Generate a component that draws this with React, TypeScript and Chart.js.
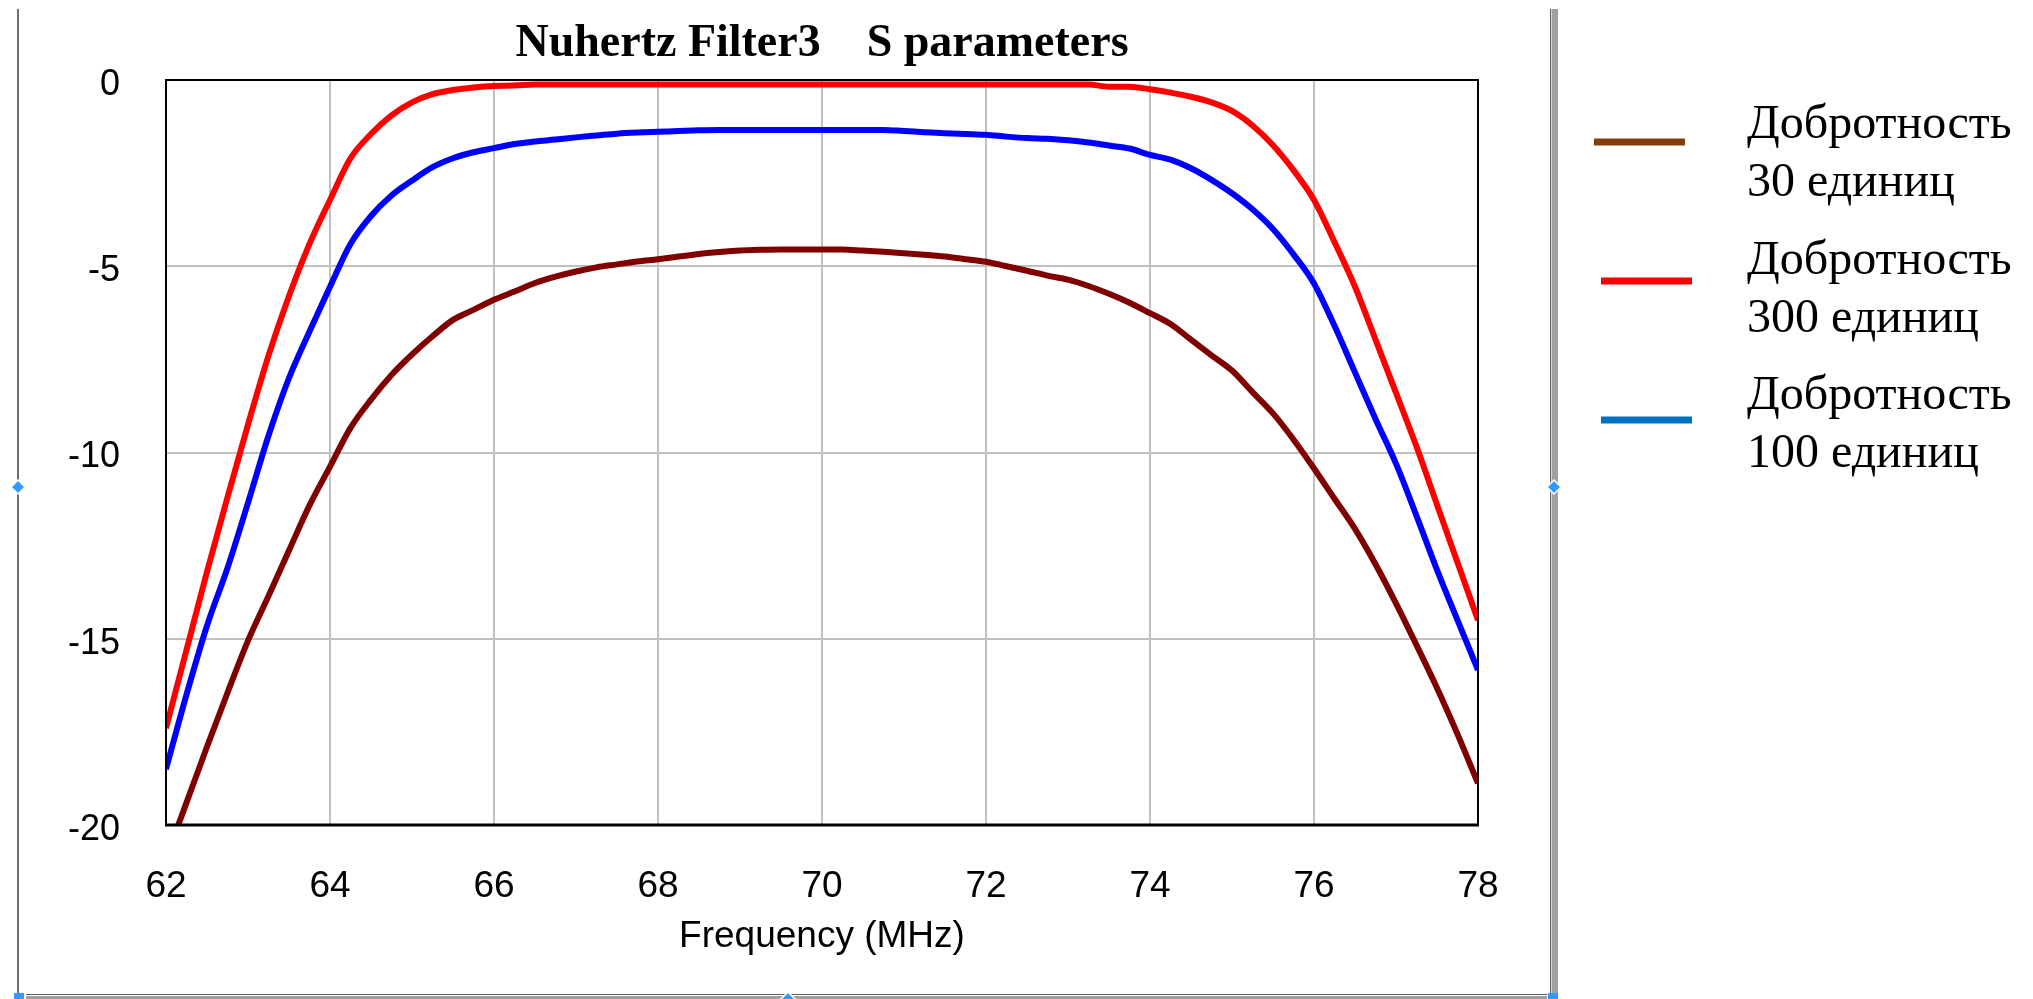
import React, { useEffect, useRef } from "react";
import { Chart, registerables } from "chart.js";

Chart.register(...registerables);

// ---------- data ----------
const frequencies = [
  62, 62.25, 62.5, 62.75, 63, 63.25, 63.5, 63.75, 64, 64.25, 64.5, 64.75,
  65, 65.25, 65.5, 65.75, 66, 66.25, 66.5, 66.75, 67, 67.25, 67.5, 67.75,
  68, 68.25, 68.5, 68.75, 69, 69.25, 69.5, 69.75, 70, 70.25, 70.5, 70.75,
  71, 71.25, 71.5, 71.75, 72, 72.25, 72.5, 72.75, 73, 73.25, 73.5, 73.75,
  74, 74.25, 74.5, 74.75, 75, 75.25, 75.5, 75.75, 76, 76.25, 76.5, 76.75,
  77, 77.25, 77.5, 77.75, 78,
];

const q30 = [
  -20.9, -19.4, -17.9, -16.45, -15.05, -13.85, -12.63, -11.42, -10.38, -9.34, -8.58, -7.92,
  -7.37, -6.88, -6.44, -6.17, -5.9, -5.68, -5.45, -5.28, -5.14, -5.03, -4.95, -4.87,
  -4.81, -4.74, -4.67, -4.62, -4.58, -4.56, -4.55, -4.55, -4.55, -4.55, -4.58, -4.61,
  -4.65, -4.69, -4.74, -4.81, -4.88, -5.0, -5.12, -5.25, -5.36, -5.53, -5.74, -5.98,
  -6.26, -6.55, -6.97, -7.39, -7.8, -8.38, -8.95, -9.65, -10.43, -11.24, -12.05, -13.0,
  -14.05, -15.17, -16.32, -17.56, -18.88,
];

const q300 = [
  -17.4, -15.3, -13.2, -11.2, -9.25, -7.4, -5.8, -4.4, -3.22, -2.1, -1.45, -0.95,
  -0.6, -0.38, -0.27, -0.2, -0.16, -0.15, -0.12, -0.12, -0.12, -0.12, -0.12, -0.12,
  -0.12, -0.12, -0.12, -0.12, -0.12, -0.12, -0.12, -0.12, -0.12, -0.12, -0.12, -0.12,
  -0.12, -0.12, -0.12, -0.12, -0.12, -0.12, -0.12, -0.12, -0.12, -0.12, -0.18, -0.18,
  -0.25, -0.34, -0.45, -0.6, -0.83, -1.22, -1.75, -2.42, -3.22, -4.35, -5.55, -6.97,
  -8.4, -9.84, -11.4, -12.95, -14.5,
];

const q100 = [
  -18.5, -16.5, -14.65, -13.1, -11.35, -9.55, -8.0, -6.75, -5.55, -4.4, -3.65, -3.1,
  -2.7, -2.34, -2.1, -1.94, -1.83, -1.72, -1.65, -1.6, -1.54, -1.49, -1.44, -1.41,
  -1.39, -1.37, -1.35, -1.34, -1.34, -1.34, -1.34, -1.34, -1.34, -1.34, -1.34, -1.34,
  -1.37, -1.4, -1.43, -1.45, -1.47, -1.52, -1.56, -1.58, -1.62, -1.68, -1.76, -1.84,
  -2.01, -2.14, -2.37, -2.68, -3.04, -3.47, -4.0, -4.68, -5.46, -6.6, -7.85, -9.1,
  -10.3, -11.7, -13.15, -14.5, -15.84,
];

const seriesValues = [q30, q300, q100];
const seriesLabels = [
  ["Добротность", "30 единиц"],
  ["Добротность", "300 единиц"],
  ["Добротность", "100 единиц"],
];
const lineColors = ["#800000", "#FF0000", "#0000FF"];
const legendColors = ["#843C0C", "#FF0000", "#0070C0"];

const xTicks = [62, 64, 66, 68, 70, 72, 74, 76, 78];
const yTicks = [0, -5, -10, -15, -20];
const chartTitle = "Nuhertz Filter3    S parameters";
const xAxisTitle = "Frequency (MHz)";

// ---------- styling ----------
const SANS = "'Liberation Sans', Arial, sans-serif";
const SERIF = "'Liberation Serif', 'Times New Roman', serif";

function diamond(ctx: CanvasRenderingContext2D, cx: number, cy: number, r: number) {
  ctx.beginPath();
  ctx.moveTo(cx, cy - r);
  ctx.lineTo(cx + r, cy);
  ctx.lineTo(cx, cy + r);
  ctx.lineTo(cx - r, cy);
  ctx.closePath();
  ctx.fillStyle = "#3399FF";
  ctx.fill();
  ctx.strokeStyle = "#FFFFFF";
  ctx.lineWidth = 1.5;
  ctx.stroke();
}

const decorPlugin = {
  id: "decor",
  beforeDraw(chart: any) {
    const ctx = chart.ctx as CanvasRenderingContext2D;
    ctx.save();
    ctx.fillStyle = "#FFFFFF";
    ctx.fillRect(0, 0, chart.width, chart.height);
    ctx.restore();
  },
  afterDatasetsDraw(chart: any) {
    const { ctx, chartArea } = chart;
    const { left, top, right, bottom } = chartArea;
    ctx.save();
    ctx.strokeStyle = "#000000";
    ctx.lineWidth = 2;
    ctx.beginPath();
    ctx.moveTo(left, bottom);
    ctx.lineTo(left, top);
    ctx.lineTo(right, top);
    ctx.lineTo(right, bottom);
    ctx.stroke();
    ctx.lineWidth = 3;
    ctx.beginPath();
    ctx.moveTo(left - 1, bottom);
    ctx.lineTo(right + 1, bottom);
    ctx.stroke();
    ctx.restore();
  },
  afterDraw(chart: any) {
    const ctx = chart.ctx as CanvasRenderingContext2D;
    ctx.save();
    // frame of the embedded object
    ctx.fillStyle = "#707070";
    ctx.fillRect(17, 9, 2, 984);
    ctx.fillStyle = "#606060";
    ctx.fillRect(1550, 9, 1, 984);
    ctx.fillStyle = "#D8D8D8";
    ctx.fillRect(1551, 9, 1, 984);
    ctx.fillStyle = "#A0A0A0";
    ctx.fillRect(1552, 9, 6, 984);
    ctx.fillStyle = "#606060";
    ctx.fillRect(26, 994, 1521, 1);
    ctx.fillStyle = "#A0A0A0";
    ctx.fillRect(26, 996, 1521, 3);
    // handles
    diamond(ctx, 18, 487, 7);
    diamond(ctx, 1554, 487, 7);
    diamond(ctx, 788, 999, 7);
    ctx.fillStyle = "#3399FF";
    ctx.fillRect(14, 993, 10, 6);
    ctx.fillRect(1548, 993, 10, 6);

    // legend
    ctx.font = `48px ${SERIF}`;
    ctx.textAlign = "left";
    ctx.textBaseline = "alphabetic";
    seriesLabels.forEach((lines, i) => {
      const ly = 142 + 139 * i;
      const lx = i === 0 ? 1594 : 1601;
      ctx.strokeStyle = legendColors[i];
      ctx.lineWidth = 7;
      ctx.lineCap = "butt";
      ctx.beginPath();
      ctx.moveTo(lx, ly);
      ctx.lineTo(lx + 91, ly);
      ctx.stroke();
      ctx.fillStyle = "#000000";
      lines.forEach((t, j) => {
        ctx.fillText(t, 1747, 138 + 135.5 * i + 58 * j);
      });
    });
    ctx.restore();
  },
};

export default function App() {
  const canvasRef = useRef<HTMLCanvasElement | null>(null);

  useEffect(() => {
    const canvas = canvasRef.current;
    if (!canvas) return;
    const chart = new Chart(canvas, {
      type: "line",
      data: {
        datasets: seriesValues.map((vals, i) => ({
          label: seriesLabels[i].join(" "),
          data: frequencies.map((f, k) => ({ x: f, y: vals[k] })),
          borderColor: lineColors[i],
          backgroundColor: lineColors[i],
          borderWidth: 6,
          pointRadius: 0,
          fill: false,
          cubicInterpolationMode: "monotone" as const,
        })),
      },
      options: {
        responsive: false,
        animation: false,
        devicePixelRatio: 1,
        layout: { padding: { left: 0, top: 0, right: 555, bottom: 0 } },
        plugins: {
          legend: { display: false },
          tooltip: { enabled: false },
          title: {
            display: true,
            text: chartTitle,
            fullSize: false,
            color: "#000000",
            font: { family: SERIF, size: 46, weight: "bold" },
            padding: { top: 17, bottom: 7.8 },
          },
        },
        scales: {
          x: {
            type: "linear",
            min: 62,
            max: 78,
            afterBuildTicks: (scale: any) => {
              scale.ticks = xTicks.map((v) => ({ value: v }));
            },
            afterFit: (scale: any) => {
              scale.height = 174;
            },
            grid: { color: "#C0C0C0", lineWidth: 2, drawTicks: false },
            border: { display: false },
            ticks: {
              color: "#000000",
              font: { family: SANS, size: 37 },
              padding: 40,
              maxRotation: 0,
            },
            title: {
              display: true,
              text: xAxisTitle,
              color: "#000000",
              font: { family: SANS, size: 37 },
              padding: { top: 0, bottom: 40 },
            },
          },
          y: {
            type: "linear",
            min: -20,
            max: 0,
            afterBuildTicks: (scale: any) => {
              scale.ticks = yTicks.map((v) => ({ value: v }));
            },
            afterFit: (scale: any) => {
              scale.width = 166;
            },
            grid: { color: "#C0C0C0", lineWidth: 2, drawTicks: false },
            border: { display: false },
            ticks: {
              color: "#000000",
              font: { family: SANS, size: 36 },
              padding: 46,
              labelOffset: 5,
            },
          },
        },
      },
      plugins: [decorPlugin],
    } as any);
    return () => chart.destroy();
  }, []);

  return (
    <div style={{ position: "fixed", left: 0, top: 0, width: 2033, height: 999, background: "#fff" }}>
      <canvas ref={canvasRef} width={2033} height={999} style={{ display: "block" }} />
    </div>
  );
}
